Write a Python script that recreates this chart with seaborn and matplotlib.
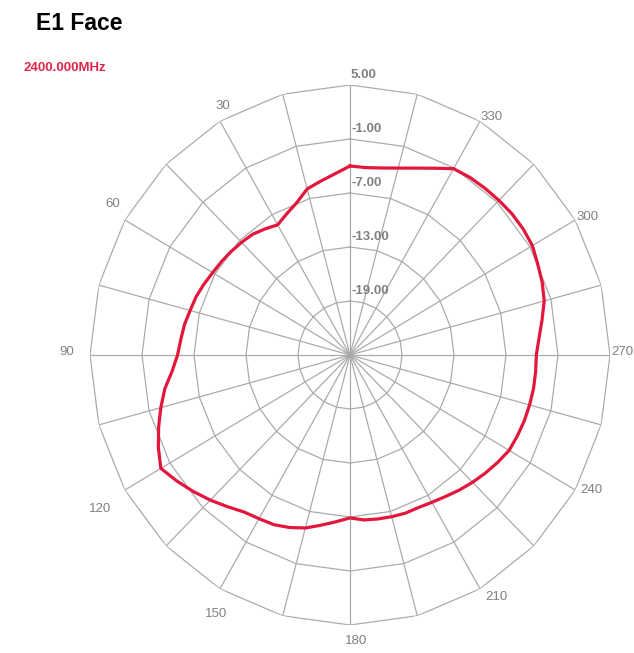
import numpy as np
import pandas as pd
import seaborn as sns
import matplotlib.pyplot as plt

RED = "#e3163c"
GRID = "#ababab"
LABEL = "#808080"

# gain pattern (dB) read every 5 degrees, counter-clockwise from top
angles = list(range(0, 360, 5))
gain = [
    -4.0, -4.8, -5.4, -5.9, -7.0, -7.7, -8.3, -7.9, -7.5, -7.3,
    -7.1, -6.9, -6.7, -6.4, -6.1, -5.9, -5.6, -5.4, -5.1, -4.4,
    -3.3, -2.4, -1.5, -0.6, 0.2, -0.6, -1.4, -2.2, -3.0, -3.7,
    -4.0, -4.2, -4.6, -5.1, -5.8, -6.4, -6.9, -6.6, -6.5, -6.4,
    -6.3, -6.3, -6.1, -5.8, -5.4, -5.0, -4.6, -4.2, -3.8, -3.7,
    -3.6, -3.55, -3.5, -3.5, -3.5, -3.1, -2.5, -1.8, -1.4, -1.1,
    -0.7, -0.6, -0.6, -0.7, -0.8, -0.9, -1.1, -2.1, -2.9, -3.5,
    -3.9, -4.1,
]

ring_values = [5, -1, -7, -13, -19]
ring_labels = ["5.00", "-1.00", "-7.00", "-13.00", "-19.00"]
angle_ticks = [30, 60, 90, 120, 150, 180, 210, 240, 270, 300, 330]
# label offsets in pixels from the outer ring vertex
angle_offsets = {
    30: (3, 15), 60: (-12, 16), 90: (-23, 3), 120: (-25, -19),
    150: (-4, -25), 180: (6, -16), 210: (16, -8), 240: (16, 0),
    270: (12, 3), 300: (12, 3), 330: (12, 4),
}
r_min, r_max = -25, 5

fig = plt.figure(figsize=(6.34, 6.53), dpi=100)
ax = fig.add_axes([90 / 634, 28 / 653, 520 / 634, 540 / 653], projection="polar")
ax.set_aspect("auto")
ax.set_theta_zero_location("N")
ax.set_theta_direction(1)
ax.set_ylim(r_min, r_max)
ax.grid(False)
ax.set_xticks([])
ax.set_yticks([])
ax.spines["polar"].set_visible(False)

# polygonal grid: 24 spokes, rings drawn as 24-gons
spokes = np.deg2rad(np.arange(0, 360, 15))
poly = np.append(spokes, spokes[0])
for rv in ring_values:
    ax.plot(poly, [rv] * len(poly), color=GRID, lw=0.9, zorder=1)
for s in spokes:
    ax.plot([s, s], [r_min, r_max], color=GRID, lw=0.9, zorder=1)

# close the loop at 360 degrees
df = pd.DataFrame({"theta": np.deg2rad(angles + [360]), "gain": gain + [gain[0]]})
sns.lineplot(data=df, x="theta", y="gain", sort=False, estimator=None,
             color=RED, lw=2.3, ax=ax, zorder=3)
ax.set_xlabel("")
ax.set_ylabel("")

font = "Liberation Sans"
for rv, lab in zip(ring_values, ring_labels):
    ax.annotate(lab, xy=(0, rv), xytext=(1, 10), textcoords="offset pixels",
                ha="left", va="center", fontsize=9.5, color=LABEL,
                family=font, fontweight="bold", zorder=4)
for a in angle_ticks:
    ax.annotate(str(a), xy=(np.deg2rad(a), r_max), xytext=angle_offsets[a],
                textcoords="offset pixels", ha="center", va="center",
                fontsize=9.5, color=LABEL, family=font, annotation_clip=False)

fig.text(36 / 634, 1 - 24 / 653, "E1 Face", fontsize=16.5, fontweight="bold",
         family=font, ha="left", va="center")
fig.text(23 / 634, 1 - 68 / 653, "2400.000MHz", fontsize=9.5, fontweight="bold",
         family=font, color="#e2254a", ha="left", va="center")

fig.savefig("out.png", dpi=100)
